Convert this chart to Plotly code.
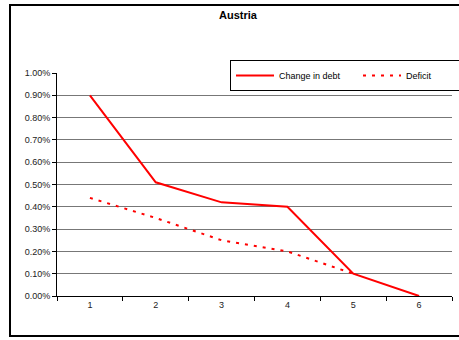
import plotly.graph_objects as go

categories = ["1", "2", "3", "4", "5", "6"]
change_in_debt = [0.0090, 0.0051, 0.0042, 0.0040, 0.0010, 0.0000]
deficit = [0.0044, 0.0035, 0.0025, 0.0020, 0.0010, None]
y_ticks = [i / 1000 for i in range(0, 11)]

W, H = 459, 340
L, R, T, B = 57, 7, 73, 44

fig = go.Figure()
fig.add_trace(go.Scatter(x=categories, y=change_in_debt, name="Change in debt",
                         mode="lines", line=dict(color="#ff0000", width=2)))
fig.add_trace(go.Scatter(x=categories, y=deficit, name="Deficit",
                         mode="lines", line=dict(color="#ff0000", width=2, dash="3px,6px"),
                         connectgaps=False))

pw = W - L - R
ph = H - T - B
def px(x):
    return (x - L) / pw
def py(y):
    return (H - B - y) / ph

fig.update_layout(
    width=W, height=H,
    margin=dict(l=L, r=R, t=T, b=B, autoexpand=False),
    paper_bgcolor="white", plot_bgcolor="white",
    font=dict(family="Liberation Sans, Arial, sans-serif", size=9, color="#222"),
    title=dict(text="<b>Austria</b>", x=238 / W, xref="container", xanchor="center",
               y=1 - 15 / H, yanchor="middle", font=dict(size=11, color="#000")),
    showlegend=True,
    legend=dict(orientation="h", x=px(230), y=py(60), xanchor="left", yanchor="top",
                bordercolor="#000", borderwidth=1, bgcolor="white",
                font=dict(size=9, color="#000"), entrywidth=74, itemwidth=38,
                tracegroupgap=0),
    xaxis=dict(type="category", showline=True, linecolor="#000", linewidth=1,
               ticks="outside", tickson="boundaries", ticklen=4, tickcolor="#000",
               showgrid=False, zeroline=False, range=[-0.5, 5.5],
               tickfont=dict(size=9, color="#222")),
    yaxis=dict(range=[0, 0.01], tickvals=y_ticks, tickformat=".2%",
               showline=True, linecolor="#000", linewidth=1,
               ticks="outside", ticklen=4, tickcolor="#000",
               showgrid=True, gridcolor="#777", gridwidth=1, zeroline=False,
               tickfont=dict(size=9, color="#222")),
)

post = (
    "document.body.style.margin='0';document.body.style.overflow='hidden';"
    "var b=document.createElement('div');"
    "b.style.cssText='position:absolute;left:9px;top:4px;width:470px;height:333px;"
    "border:2px solid #000;box-sizing:border-box;pointer-events:none;z-index:10;';"
    "document.body.appendChild(b);"
)

fig.write_html("out.html", config={"displayModeBar": False}, post_script=post)
